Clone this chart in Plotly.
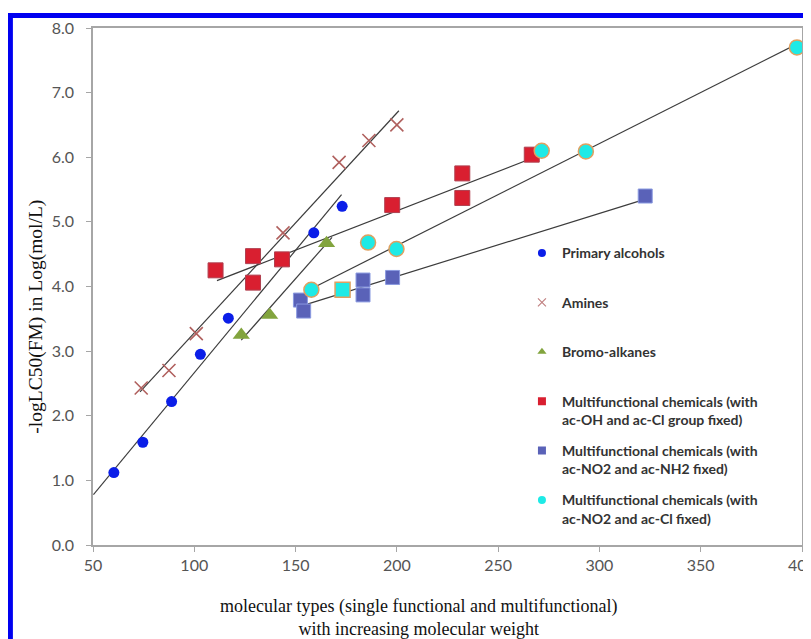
import plotly.graph_objects as go

# ---- data ----
alc_x = [60.3, 74.6, 88.8, 103.0, 116.8, 159.0, 173.0]
alc_y = [1.12, 1.59, 2.22, 2.95, 3.51, 4.83, 5.24]

amine_x = [73.8, 87.5, 101.0, 143.8, 171.5, 186.2, 200.0]
amine_y = [2.43, 2.70, 3.27, 4.83, 5.92, 6.26, 6.50]

bromo_x = [123.2, 137.2, 165.3]
bromo_y = [3.25, 3.56, 4.67]

ohcl_x = [110.5, 129.0, 129.0, 143.3, 197.7, 232.3, 232.3, 266.6]
ohcl_y = [4.25, 4.47, 4.06, 4.42, 5.26, 5.75, 5.37, 6.04]

nonh_x = [152.4, 154.0, 183.3, 183.3, 197.9, 322.6]
nonh_y = [3.79, 3.62, 4.10, 3.87, 4.14, 5.40]

nocl_x = [157.8, 173.2, 185.8, 199.8, 271.5, 293.3, 397.5]
nocl_y = [3.95, 3.95, 4.68, 4.58, 6.10, 6.09, 7.70]
nocl_sym = ["circle", "square", "circle", "circle", "circle", "circle", "circle"]

# trendline end points
alc_tx, alc_ty = [50.2, 172.7], [0.78, 5.42]
amine_tx, amine_ty = [73.2, 201.0], [2.37, 6.72]
bromo_tx, bromo_ty = [123.2, 168.0], [3.17, 4.76]
ohcl_tx, ohcl_ty = [111.2, 268.0], [4.09, 6.00]
nonh_tx, nonh_ty = [153.0, 323.5], [3.70, 5.36]
nocl_tx, nocl_ty = [158.0, 399.9], [3.97, 7.79]

names = [
    "Primary alcohols",
    "Amines",
    "Bromo-alkanes",
    "Multifunctional chemicals (with<br>ac-OH and ac-Cl group fixed)",
    "Multifunctional chemicals (with<br>ac-NO2 and ac-NH2 fixed)",
    "Multifunctional chemicals (with<br>ac-NO2 and ac-Cl fixed)",
]

x_ticks = [50, 100, 150, 200, 250, 300, 350, 400]
y_ticks = [0, 1, 2, 3, 4, 5, 6, 7, 8]

fig = go.Figure()

LINE = dict(color="#3c3c3c", width=1.2)
for tx, ty in [(alc_tx, alc_ty), (amine_tx, amine_ty), (bromo_tx, bromo_ty),
               (ohcl_tx, ohcl_ty), (nonh_tx, nonh_ty), (nocl_tx, nocl_ty)]:
    fig.add_trace(go.Scatter(x=tx, y=ty, mode="lines", line=LINE,
                             showlegend=False, hoverinfo="skip"))

styles = [
    dict(symbol="circle", color="#0b1ee8", size=11, line=dict(width=0)),
    dict(symbol="x-thin", color="#b0605e", size=13, line=dict(width=1.6, color="#b0605e")),
    dict(symbol="triangle-up", color="#82a43e", size=15, line=dict(width=0)),
    dict(symbol="square", color="#d91f30", size=15, line=dict(width=1, color="#b04050")),
    dict(symbol="square", color="#5a62b8", size=14, line=dict(width=1, color="#8a9ae0")),
    dict(symbol=nocl_sym, color="#1eeae6", size=15, line=dict(width=1.5, color="#e0a060")),
]
datas = [(alc_x, alc_y), (amine_x, amine_y), (bromo_x, bromo_y),
         (ohcl_x, ohcl_y), (nonh_x, nonh_y), (nocl_x, nocl_y)]

for (dx, dy), st in zip(datas, styles):
    fig.add_trace(go.Scatter(x=dx, y=dy, mode="markers", marker=st,
                             showlegend=False, cliponaxis=False))

# legend entries (small markers, as in the reference)
leg_styles = [
    dict(symbol="circle", color="#0b1ee8", size=8),
    dict(symbol="x-thin", color="#c08080", size=8, line=dict(width=1.2, color="#c08080")),
    dict(symbol="triangle-up", color="#82a43e", size=8),
    dict(symbol="square", color="#d91f30", size=8),
    dict(symbol="square", color="#5a62b8", size=8),
    dict(symbol="circle", color="#1eeae6", size=8),
]
for i, (nm, st) in enumerate(zip(names, leg_styles)):
    label = nm if "<br>" in nm else nm + "<br> "
    fig.add_trace(go.Scatter(x=[None], y=[None], mode="markers", marker=st,
                             name=label, legendgroup=f"g{i}", showlegend=True))

axis_common = dict(
    showline=True, linecolor="#a6a6a6", linewidth=1.5, mirror=True,
    ticks="outside", ticklen=5, tickcolor="#a6a6a6", tickwidth=1.2,
    showgrid=False, zeroline=False, automargin=False,
    tickfont=dict(family="Lato", size=16, color="#555555"),
)

fig.update_xaxes(range=[50, 400], tickvals=x_ticks, ticktext=[str(v) for v in x_ticks],
                 **axis_common)
fig.update_yaxes(range=[0, 8], tickvals=y_ticks, ticktext=[f"{v:.1f}" for v in y_ticks],
                 ticklabelstandoff=9, **axis_common)

fig.update_layout(
    width=811, height=639,
    margin=dict(l=85, r=17, t=20, b=102, autoexpand=False),
    plot_bgcolor="white", paper_bgcolor="white",
    legend=dict(x=0.605, y=0.595, xanchor="left", yanchor="top",
                font=dict(family="Lato", size=14, color="#333333", weight="bold"),
                tracegroupgap=10, valign="top", bgcolor="rgba(0,0,0,0)"),
    annotations=[
        dict(text="-logLC50(FM) in Log(mol/L)", xref="paper", yref="paper",
             x=-0.0798, y=0.4425, textangle=-90, showarrow=False,
             font=dict(family="Liberation Serif", size=19.5, color="#111111"),
             xanchor="center", yanchor="middle"),
        dict(text="molecular types (single functional and multifunctional)<br>with increasing molecular weight",
             xref="paper", yref="paper", x=0.4596, y=-0.140, showarrow=False,
             font=dict(family="Liberation Serif", size=18, color="#111111"),
             xanchor="center", yanchor="middle"),
    ],
    shapes=[
        dict(type="line", xref="paper", yref="paper", x0=-0.125, x1=1.2,
             y0=1.0242, y1=1.0242, line=dict(color="#0000f0", width=5)),
        dict(type="line", xref="paper", yref="paper", x0=-0.1172, x1=-0.1172,
             y0=1.029, y1=-0.4, line=dict(color="#0000f0", width=6)),
    ],
)

fig.write_html("out.html")
